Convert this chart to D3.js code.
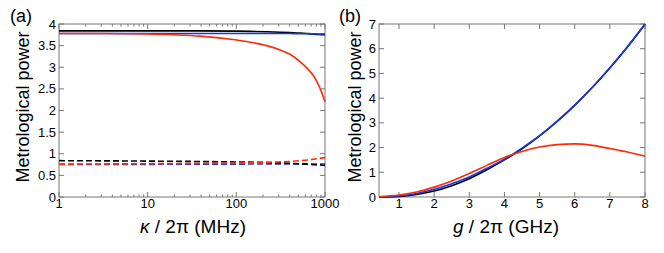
<!DOCTYPE html>
<html>
<head>
<meta charset="utf-8">
<script src="https://cdn.jsdelivr.net/npm/d3@7"></script>
<style>
  body { margin: 0; background: #fff; }
  svg text { font-family: "Liberation Sans", Arial, Helvetica, sans-serif; fill: #000; }
</style>
</head>
<body>
<div id="chart"></div>
<script>
// panel (a): power vs kappa/2pi (MHz), log axis
const kappa = [1, 3, 10, 20, 39, 92, 143, 220, 311, 403, 522, 626, 732, 812, 901, 1000];
const aBlack = [3.84, 3.84, 3.84, 3.84, 3.84, 3.835, 3.83, 3.82, 3.81, 3.80, 3.79, 3.78, 3.77, 3.76, 3.755, 3.75];
const aBlue = [3.78, 3.78, 3.78, 3.78, 3.78, 3.78, 3.78, 3.78, 3.78, 3.78, 3.775, 3.775, 3.77, 3.77, 3.77, 3.77];
const aRed = [3.78, 3.78, 3.77, 3.75, 3.72, 3.64, 3.58, 3.50, 3.40, 3.30, 3.13, 2.98, 2.82, 2.66, 2.46, 2.2];

const kappaD = [1, 10, 100, 300, 600, 1000];
const aBlackD = [0.84, 0.83, 0.81, 0.79, 0.76, 0.73];
const aBlueD = [0.75, 0.755, 0.76, 0.765, 0.765, 0.76];
const aRedD = [0.76, 0.77, 0.79, 0.81, 0.85, 0.91];

// panel (b): power vs g/2pi (GHz)
const gVals = [0.43, 1, 1.5, 2, 2.5, 3, 3.5, 4, 4.5, 5, 5.5, 6, 6.5, 7, 7.5, 8];
const bBlack = [0.0, 0.02, 0.1, 0.24, 0.46, 0.74, 1.1, 1.5, 1.95, 2.47, 3.06, 3.71, 4.43, 5.22, 6.07, 6.99];
const bBlue = [0.0, 0.04, 0.14, 0.31, 0.54, 0.81, 1.16, 1.53, 1.98, 2.48, 3.07, 3.72, 4.44, 5.23, 6.08, 7.0];
const bRed = [0.01, 0.08, 0.2, 0.4, 0.65, 0.95, 1.28, 1.6, 1.84, 2.02, 2.12, 2.15, 2.09, 1.96, 1.82, 1.65];

const aYTicks = [0, 0.5, 1, 1.5, 2, 2.5, 3, 3.5, 4];
const aXTicks = [1, 10, 100, 1000];
const bYTicks = [0, 1, 2, 3, 4, 5, 6, 7];
const bXTicks = [1, 2, 3, 4, 5, 6, 7, 8];

const RED = '#ff2a0a';
const BLUE = '#1538e0';
const BLACK = '#000';

const svg = d3.select('#chart').append('svg')
  .attr('width', 664).attr('height', 253);

const plotTop = 24, plotBottom = 197;

function frame(x, y, xTicks, yTicks, xMinor, yFmt) {
  const g = svg.append('g');
  const [x0, x1] = x.range();
  // ticks inward on all four sides
  const tk = g.append('g').attr('stroke', '#777').attr('stroke-width', 1);
  xTicks.forEach(v => {
    tk.append('line').attr('x1', x(v)).attr('x2', x(v)).attr('y1', plotBottom).attr('y2', plotBottom - 5);
    tk.append('line').attr('x1', x(v)).attr('x2', x(v)).attr('y1', plotTop).attr('y2', plotTop + 5);
  });
  xMinor.forEach(v => {
    tk.append('line').attr('x1', x(v)).attr('x2', x(v)).attr('y1', plotBottom).attr('y2', plotBottom - 2.5);
    tk.append('line').attr('x1', x(v)).attr('x2', x(v)).attr('y1', plotTop).attr('y2', plotTop + 2.5);
  });
  yTicks.forEach(v => {
    tk.append('line').attr('x1', x0).attr('x2', x0 + 5).attr('y1', y(v)).attr('y2', y(v));
    tk.append('line').attr('x1', x1).attr('x2', x1 - 5).attr('y1', y(v)).attr('y2', y(v));
  });
  g.append('rect')
    .attr('x', x0).attr('y', plotTop)
    .attr('width', x1 - x0).attr('height', plotBottom - plotTop)
    .attr('fill', 'none').attr('stroke', '#777').attr('stroke-width', 1);

  g.selectAll('.xl').data(xTicks).enter().append('text')
    .attr('x', d => x(d)).attr('y', plotBottom + 10.5)
    .attr('text-anchor', 'middle').attr('font-size', 13)
    .text(d => d);
  g.selectAll('.yl').data(yTicks).enter().append('text')
    .attr('x', x0 - 3).attr('y', d => y(d) + 4.6)
    .attr('text-anchor', 'end').attr('font-size', 13)
    .text(yFmt);
}

function drawLine(x, y, xs, ys, color, dash) {
  const line = d3.line()
    .x((d, i) => x(xs[i]))
    .y(d => y(d))
    .curve(d3.curveMonotoneX);
  svg.append('path')
    .attr('d', line(ys))
    .attr('fill', 'none')
    .attr('stroke', color)
    .attr('stroke-width', 1.6)
    .attr('stroke-dasharray', dash || null);
}

// ---- panel (a)
const xa = d3.scaleLog().domain([1, 1000]).range([59, 325]);
const ya = d3.scaleLinear().domain([0, 4]).range([plotBottom, plotTop]);
const minorA = [];
[1, 10, 100].forEach(d => { for (let k = 2; k <= 9; k++) minorA.push(d * k); });
frame(xa, ya, aXTicks, aYTicks, minorA, d => d);

drawLine(xa, ya, kappaD, aBlueD, BLUE, '6,3');
drawLine(xa, ya, kappaD, aBlackD, BLACK, '6,3');
drawLine(xa, ya, kappaD, aRedD, RED, '6,3');
drawLine(xa, ya, kappa, aBlack, BLACK);
drawLine(xa, ya, kappa, aBlue, BLUE);
drawLine(xa, ya, kappa, aRed, RED);

// ---- panel (b)
const xb = d3.scaleLinear().domain([0.43, 8]).range([379, 645]);
const yb = d3.scaleLinear().domain([0, 7]).range([plotBottom, plotTop]);
frame(xb, yb, bXTicks, bYTicks, [], d => d);

drawLine(xb, yb, gVals, bBlack, BLACK);
drawLine(xb, yb, gVals, bBlue, BLUE);
drawLine(xb, yb, gVals, bRed, RED);

// ---- labels
function yTitle(xPos) {
  svg.append('text')
    .attr('transform', `translate(${xPos},107) rotate(-90)`)
    .attr('text-anchor', 'middle').attr('font-size', 18)
    .text('Metrological power');
}
yTitle(29);
yTitle(361);

svg.append('text').attr('x', 10).attr('y', 21.5).attr('font-size', 18).text('(a)');
svg.append('text').attr('x', 339).attr('y', 21.5).attr('font-size', 18).text('(b)');

const ta = svg.append('text').attr('x', 193).attr('y', 233)
  .attr('text-anchor', 'middle').attr('font-size', 19);
ta.append('tspan').attr('font-style', 'italic').text('κ');
ta.append('tspan').text(' / 2π (MHz)');

const tb = svg.append('text').attr('x', 506).attr('y', 233)
  .attr('text-anchor', 'middle').attr('font-size', 19);
tb.append('tspan').attr('font-style', 'italic').text('g');
tb.append('tspan').text(' / 2π (GHz)');
</script>
</body>
</html>
